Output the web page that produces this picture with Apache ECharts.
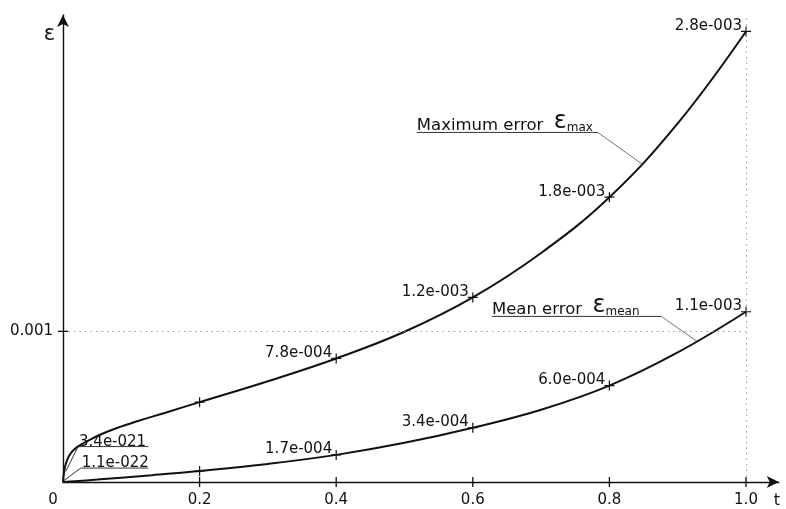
<!DOCTYPE html>
<html><head><meta charset="utf-8">
<script src="https://cdn.jsdelivr.net/npm/echarts@6/dist/echarts.min.js"></script>
<style>html,body{margin:0;padding:0;background:#fff}#c{width:786px;height:509px}</style>
</head><body><div id="c"></div>
<script>
// ---- data ----
const tMax = [0, 0.002, 0.006, 0.012, 0.02, 0.035, 0.055, 0.08, 0.11, 0.15, 0.2, 0.3, 0.4, 0.5, 0.6, 0.7, 0.8, 0.9, 1.0];
const maxErr = [0, 0.00008, 0.000145, 0.000195, 0.00023, 0.00027, 0.000315, 0.00036, 0.000405, 0.00046, 0.00053, 0.000669, 0.00082, 0.000997, 0.001225, 0.00152, 0.00189, 0.00238, 0.00299];
const tMean = [0, 0.05, 0.13, 0.2, 0.3, 0.4, 0.5, 0.6, 0.7, 0.8, 0.9, 1.0];
const meanErr = [0, 0.000016, 0.000045, 0.000073, 0.00012, 0.00018, 0.00026, 0.00036, 0.00048, 0.00064, 0.00086, 0.00113];
const markT = [0.2, 0.4, 0.6, 0.8, 1.0];
const maxLabels = ['', '7.8e-004', '1.2e-003', '1.8e-003', '2.8e-003'];
const meanLabels = ['', '1.7e-004', '3.4e-004', '6.0e-004', '1.1e-003'];
const originLabels = ['3.4e-021', '1.1e-022'];
const xTickValues = [0, 0.2, 0.4, 0.6, 0.8, 1.0];
const xTickLabels = ['0', '0.2', '0.4', '0.6', '0.8', '1.0'];
const yTickValues = [0.001];
const yTickLabels = ['0.001'];
const refLevel = 0.001;
const seriesNames = ['Maximum error', 'Mean error'];
const seriesSubs = ['max', 'mean'];
const axisNames = ['t', 'ε'];

// ---- layout / style ----
const X_MAX = 1.048, Y_MAX = 0.0031;
const FONT = 'DejaVu Sans';
const INK = '#111';
const PLUS = 'path://M4.4,0H5.6V4.4H10V5.6H5.6V10H4.4V5.6H0V4.4H4.4Z';
const VBAR = 'path://M0,0H1V10H0Z';
const HBAR = 'path://M0,0H10V1H0Z';

const chart = echarts.init(document.getElementById('c'), null, {renderer: 'canvas'});

function pick(ts, vs, t) { return vs[ts.indexOf(t)]; }

const maxPts = tMax.map((t, i) => [t, maxErr[i]]);
const meanPts = tMean.map((t, i) => [t, meanErr[i]]);
const maxMarks = markT.map((t, i) => ({value: [t, pick(tMax, maxErr, t)], name: maxLabels[i]}));
const meanMarks = markT.map((t, i) => ({value: [t, pick(tMean, meanErr, t)], name: meanLabels[i]}));

const markLabel = {
  show: true, formatter: p => p.name, position: [1, 7], align: 'right', verticalAlign: 'bottom',
  fontFamily: FONT, fontSize: 15, color: INK
};

chart.setOption({
  animation: false,
  backgroundColor: '#fff',
  grid: {left: 63, right: 786 - (63 + X_MAX * 683), top: 483 - Y_MAX * 151000, bottom: 26, containLabel: false},
  xAxis: {
    type: 'value', min: 0, max: X_MAX,
    name: axisNames[0], nameLocation: 'end', nameGap: -5,
    nameTextStyle: {fontFamily: FONT, fontSize: 16, color: INK, align: 'left', verticalAlign: 'top', padding: [11, 0, 0, 0]},
    axisLine: {show: true, symbol: ['none', 'arrow'], symbolSize: [9, 12], lineStyle: {color: INK, width: 1.4}},
    axisTick: {show: false},
    splitLine: {show: false},
    axisLabel: {
      customValues: xTickValues, margin: 11, fontFamily: FONT, fontSize: 15, color: INK,
      formatter: v => { const i = xTickValues.findIndex(x => Math.abs(x - v) < 1e-9); const s = i >= 0 ? xTickLabels[i] : ''; return v === 0 ? '{o|' + s + '}' : s; },
      rich: {o: {fontFamily: FONT, fontSize: 15, color: INK, padding: [0, 20, 0, 0]}}
    }
  },
  yAxis: {
    type: 'value', min: 0, max: Y_MAX,
    name: axisNames[1], nameLocation: 'end', nameGap: -30,
    nameTextStyle: {fontFamily: FONT, fontSize: 21, color: INK, align: 'right', verticalAlign: 'bottom', padding: [0, 8, 0, 0]},
    axisLine: {show: true, symbol: ['none', 'arrow'], symbolSize: [9, 12], lineStyle: {color: INK, width: 1.4}},
    axisTick: {show: false},
    splitLine: {show: false},
    axisLabel: {
      customValues: yTickValues, margin: 10, fontFamily: FONT, fontSize: 15, color: INK,
      formatter: v => { const i = yTickValues.findIndex(x => Math.abs(x - v) < 1e-12); return i >= 0 ? yTickLabels[i] : ''; }
    }
  },
  series: [
    {
      name: seriesNames[0], type: 'line', data: maxPts, smooth: 0.4, showSymbol: false,
      lineStyle: {color: INK, width: 2}, z: 3,
      markLine: {
        silent: true, symbol: 'none', label: {show: false},
        lineStyle: {color: '#9a9a9a', width: 1, type: [1.5, 4]},
        data: [
          [{coord: [0, refLevel]}, {coord: [1.0, refLevel]}],
          [{coord: [1.0, 0]}, {coord: [1.0, Y_MAX]}]
        ]
      }
    },
    {
      name: seriesNames[1], type: 'line', data: meanPts, smooth: 0.4, showSymbol: false,
      lineStyle: {color: INK, width: 2}, z: 3
    },
    {type: 'scatter', data: maxMarks, symbol: PLUS, symbolSize: 10, itemStyle: {color: INK, opacity: 1}, label: markLabel, z: 4},
    {type: 'scatter', data: meanMarks, symbol: PLUS, symbolSize: 10, itemStyle: {color: INK, opacity: 1}, label: markLabel, z: 4},
    {type: 'scatter', data: xTickValues.filter(v => v > 0).map(v => [v, 0]), symbol: VBAR, symbolSize: [1.3, 10], itemStyle: {color: INK, opacity: 1}, z: 5},
    {type: 'scatter', data: yTickValues.map(v => [0, v]), symbol: HBAR, symbolSize: [10, 1.3], itemStyle: {color: INK, opacity: 1}, z: 5}
  ]
});

// ---- annotations (leader lines and notes), anchored in data space ----
const P = (t, v) => chart.convertToPixel({gridIndex: 0}, [t, v]);
const notes = [
  {kind: 'series', idx: 0, anchor: [0.848, 0.00211], elbow: [0.783, 0.00232], startT: 0.518},
  {kind: 'series', idx: 1, anchor: [0.928, 0.000934], elbow: [0.876, 0.001099], startT: 0.628},
  {kind: 'origin', idx: 0, anchor: [0.004, 0.00007], elbow: [0.022, 0.000235], endT: 0.125},
  {kind: 'origin', idx: 1, anchor: [0.0015, 0.00001], elbow: [0.026, 0.0000924], endT: 0.125}
];
const graphics = [];
notes.forEach(n => {
  const a = P(n.anchor[0], n.anchor[1]);
  const e = P(n.elbow[0], n.elbow[1]);
  if (n.kind === 'series') {
    const s = P(n.startT, n.elbow[1]);
    graphics.push({type: 'polyline', shape: {points: [[s[0], e[1]], e]}, style: {stroke: '#333', lineWidth: 1, fill: null}, silent: true});
    graphics.push({type: 'line', shape: {x1: e[0], y1: e[1], x2: a[0], y2: a[1]}, style: {stroke: '#666', lineWidth: 0.9}, silent: true});
    graphics.push({
      type: 'text', x: s[0], y: e[1] + 1.5, silent: true,
      style: {
        text: '{a|' + seriesNames[n.idx] + '  }{e|ε}{s|' + seriesSubs[n.idx] + '}',
        align: 'left', verticalAlign: 'bottom', fill: INK,
        rich: {
          a: {fontFamily: FONT, fontSize: 16.5, fill: INK, verticalAlign: 'bottom', lineHeight: 18},
          e: {fontFamily: FONT, fontSize: 24, fill: INK, verticalAlign: 'bottom', lineHeight: 22},
          s: {fontFamily: FONT, fontSize: 12, fill: INK, verticalAlign: 'bottom', lineHeight: 15}
        }
      }
    });
  } else {
    const r = P(n.endT, n.elbow[1]);
    graphics.push({type: 'polyline', shape: {points: [a, e, [r[0], e[1]]]}, style: {stroke: '#333', lineWidth: 1, fill: null}, silent: true});
    graphics.push({
      type: 'text', x: e[0] + 1, y: e[1] + 3, silent: true,
      style: {text: originLabels[n.idx], fontFamily: FONT, fontSize: 15, fill: INK, align: 'left', verticalAlign: 'bottom'}
    });
  }
});
chart.setOption({graphic: graphics});
</script>
</body></html>
